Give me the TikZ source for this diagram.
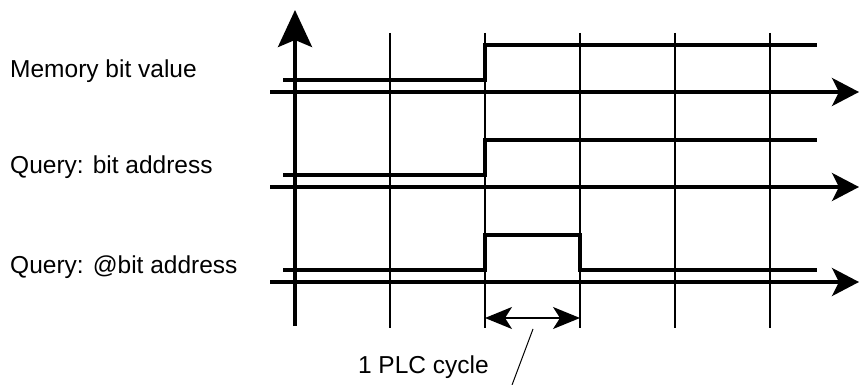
\documentclass[tikz,border=0pt]{standalone}
\usepackage{fontspec}
\setmainfont{Liberation Sans}
\usetikzlibrary{arrows.meta}
\begin{document}
\begin{tikzpicture}[x=1pt,y=-1pt,
  axis/.style={line width=3.6pt,-{Stealth[length=27pt,width=28pt,inset=7pt]}},
  yaxis/.style={line width=3.6pt,-{Stealth[length=37pt,width=34pt,inset=7pt]}},
  gridline/.style={line width=1.2pt},
  signal/.style={line width=3.6pt,line join=miter},
  span/.style={line width=1.6pt,{Stealth[length=27pt,width=22pt,inset=7pt]}-{Stealth[length=27pt,width=22pt,inset=7pt]}},
  label/.style={font=\fontsize{24.5}{28}\selectfont,inner sep=0pt}]
\useasboundingbox (0,0) rectangle (859,385);

% time grid
\foreach \gx/\nm in {390/ga,485/gb,580/gc,675/gd,770/ge}{
  \coordinate (\nm t) at (\gx,33);
  \coordinate (\nm b) at (\gx,328);
  \draw[gridline] (\nm t) -- (\nm b);
}

% vertical axis
\coordinate (yb) at (295,326);
\coordinate (yt) at (295,10);
\draw[yaxis] (yb) -- (yt);

% time axes
\foreach \ay/\nm in {92/xa,187/xb,282/xc}{
  \coordinate (\nm s) at (270,\ay);
  \coordinate (\nm e) at (859,\ay);
  \draw[axis] (\nm s) -- (\nm e);
}

% signal traces
\draw[signal] (283,80) -- (485,80) -- (485,45) -- (817,45);
\draw[signal] (283,175) -- (485,175) -- (485,140) -- (817,140);
\draw[signal] (283,270) -- (485,270) -- (485,235) -- (580,235) -- (580,270) -- (817,270);

% labels
\node[label,anchor=base west] (l1) at (10,78) {Memory bit value};
\node[label,anchor=base west] (l2) at (10,173) {Query: bit address};
\node[label,anchor=base west] (l3) at (10,273) {Query: @bit address};

% cycle duration
\coordinate (ca) at (485,318);
\coordinate (cb) at (580,318);
\draw[span] (ca) -- (cb);
\node[label,anchor=base east] (cyc) at (489,373) {1 PLC cycle};
\coordinate (pa) at (533,329);
\coordinate (pb) at (512,385);
\draw[line width=1pt] (pa) -- (pb);
\end{tikzpicture}
\end{document}
